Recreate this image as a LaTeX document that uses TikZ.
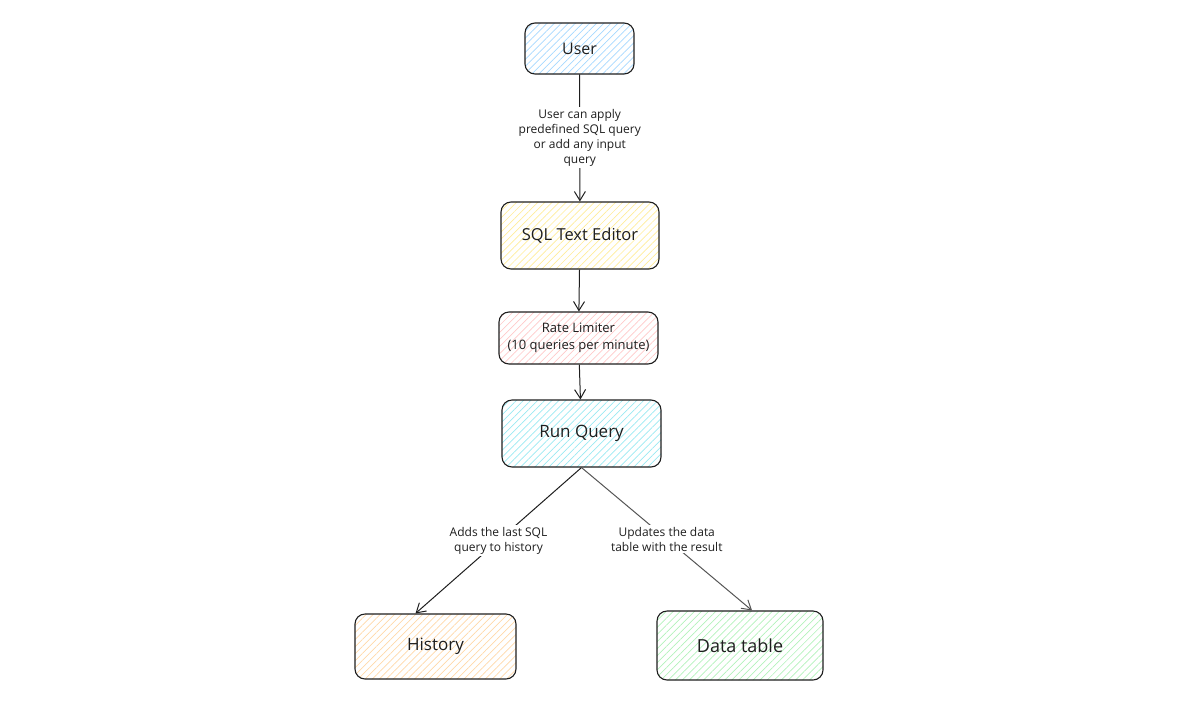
\documentclass[tikz,border=0pt]{standalone}
\usepackage{fontspec}
\setmainfont{Open Sans}
\usetikzlibrary{arrows.meta,patterns.meta}

\definecolor{inkc}{HTML}{1E1E1E}
\definecolor{greyline}{HTML}{555555}
\definecolor{hatchblue}{HTML}{A5D8FF}
\definecolor{hatchyellow}{HTML}{FFEC99}
\definecolor{hatchred}{HTML}{FFC9C9}
\definecolor{hatchcyan}{HTML}{99E9F2}
\definecolor{hatchorange}{HTML}{FFD8A8}
\definecolor{hatchgreen}{HTML}{B2F2BB}

\tikzset{
  box/.style={draw=inkc, line width=1.1pt, rounded corners=10pt, align=center,
    inner sep=0pt, text=inkc},
  hatch/.style={pattern={Lines[angle=45,distance=5pt,line width=0.7pt]}, pattern color=#1},
  flow/.style={draw=inkc, line width=1pt, -{Straight Barb[length=9pt,width=11pt]}},
  lbl/.style={fill=white, align=center, text=inkc, inner sep=2pt,
    font=\fontsize{12}{15}\selectfont},
}

\begin{document}
\begin{tikzpicture}[x=1pt,y=-1pt]
    \useasboundingbox (0,0) rectangle (1180,726);

    % boxes
    \node[box, hatch=hatchblue, minimum width=109pt, minimum height=51pt,
      font=\fontsize{16}{18}\selectfont] (user) at (579.5,48.5) {User};
    \node[box, hatch=hatchyellow, minimum width=158pt, minimum height=67pt,
      font=\fontsize{16.5}{19}\selectfont] (editor) at (580,235.5) {SQL Text Editor};
    \node[box, hatch=hatchred, minimum width=159pt, minimum height=52pt,
      font=\fontsize{13}{17}\selectfont] (limiter) at (578.5,338) {Rate Limiter\\(10 queries per minute)};
    \node[box, hatch=hatchcyan, minimum width=159pt, minimum height=67pt,
      font=\fontsize{17}{19}\selectfont] (run) at (581.5,433.5) {Run Query};
    \node[box, hatch=hatchorange, minimum width=161pt, minimum height=65pt,
      font=\fontsize{17}{19}\selectfont] (history) at (435.5,646.5) {History};
    \node[box, hatch=hatchgreen, minimum width=166pt, minimum height=69pt,
      font=\fontsize{18}{20}\selectfont] (datatable) at (740,645.5) {Data table};

    % arrows
    \draw[flow] (user) -- node[lbl] {User can apply\\predefined SQL query\\or add any input\\query} (editor);
    \draw[flow] (editor) -- (limiter);
    \draw[flow] (limiter) -- (run);
    \draw[flow] (run.south) -- node[lbl] {Adds the last SQL\\query to history} ([xshift=-20pt]history.north);
    \draw[flow, draw=greyline] (run.south) -- node[lbl] {Updates the data\\table with the result} ([xshift=12pt]datatable.north);
\end{tikzpicture}
\end{document}
